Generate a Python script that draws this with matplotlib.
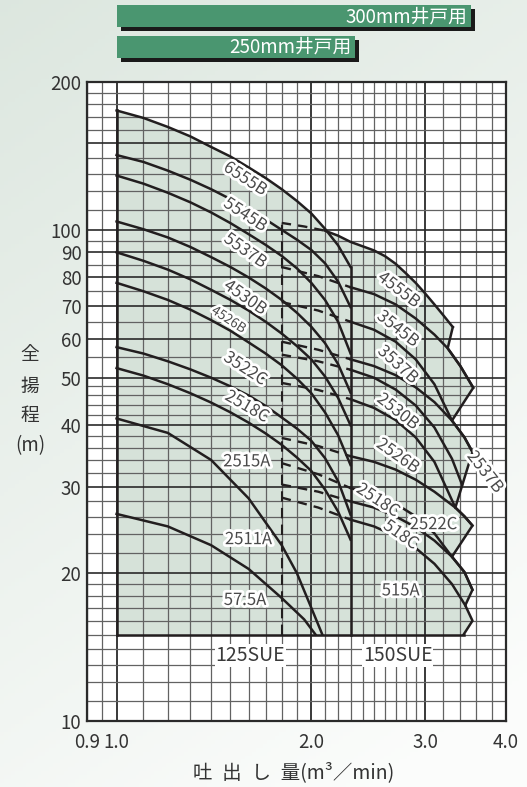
import numpy as np
import matplotlib
matplotlib.use("Agg")
import matplotlib.pyplot as plt
import matplotlib.patheffects as pe
from matplotlib.patches import Rectangle
from matplotlib.ticker import NullLocator

plt.rcParams['font.family'] = ['Noto Sans CJK JP', 'DejaVu Sans']

# ---- 125SUE (250mm well): curves start at 1.0 m3/min
q_125 = [1.0, 1.1, 1.2, 1.3, 1.4, 1.5, 1.6, 1.7, 1.8, 1.9, 2.0, 2.1, 2.2, 2.3]
h_c1 = [175, 169, 162, 155, 147.5, 141, 134, 127.5, 121, 114.5, 108, 100.5, 93, 84]
h_c2 = [142, 137.5, 132, 126.5, 121, 115.5, 110, 105, 100, 95.5, 91, 85.5, 78.5, 69.6]
h_c3 = [129, 124.2, 119, 113.8, 108.5, 103.2, 98, 93.2, 88.5, 83.5, 78, 72, 65, 56]
h_c4 = [104, 100.3, 96.5, 92.3, 88, 84, 80, 76, 72, 67.8, 63.5, 58.8, 53.3, 46.6]
h_c5 = [90, 86.5, 83, 79.3, 75.5, 72, 68.5, 65, 61.5, 58, 54.5, 50.3, 45.5, 40]
h_c6 = [78, 75, 72, 68.8, 65.5, 62.3, 59, 56, 53, 49.8, 46.5, 42.5, 38.2, 33.2]
h_c7 = [57.7, 56, 54, 52, 50, 48, 46, 43.8, 41.5, 39.4, 37.2, 34.3, 30.8, 26.3]
h_c8 = [52.3, 50.5, 48.5, 46.5, 44.5, 42.5, 40.5, 38.5, 36.5, 34.4, 32.3, 29.6, 26.7, 23.4]
q_c9 = [1.0, 1.2, 1.4, 1.6, 1.8, 1.9, 2.0, 2.08]
h_c9 = [41.3, 38.6, 34.0, 28.4, 22.8, 20.0, 17.0, 15.0]
q_c10 = [1.0, 1.2, 1.4, 1.6, 1.8, 1.95, 2.03]
h_c10 = [26.4, 24.9, 22.8, 20.4, 17.8, 16.1, 15.0]
h_floor = 15

# ---- 150SUE (300mm well): dashed part 1.8 -> 2.3, solid beyond
r_dash_q = [1.8, 2.05, 2.3]
r1_dash_q = [1.8, 1.95, 2.1]
r1_dash_h = [103.3, 101.6, 99.6]
r1_q = [2.1, 2.2, 2.3, 2.4, 2.5, 2.6, 2.7, 2.8, 2.9, 3.0, 3.1, 3.2, 3.31]
r1_h = [99.6, 97.3, 94.5, 92.6, 90.8, 88.4, 85.3, 81.6, 78.0, 74.2, 70.5, 67.0, 63.4]
r2_dh = [84, 80.5, 76.4]
r2_q = [2.3, 2.5, 2.7, 2.9, 3.1, 3.25, 3.4, 3.56]
r2_h = [76.4, 74.0, 70.5, 66.0, 61.2, 57.4, 52.8, 47.7]
r3_dh = [71.3, 68.5, 65]
r3_q = [2.3, 2.5, 2.7, 2.9, 3.1, 3.3]
r3_h = [65, 62.6, 59.2, 54.5, 48.5, 40.9]
r4_dh = [59.2, 57, 54.5]
r4_q = [2.3, 2.5, 2.7, 2.9, 3.1, 3.3, 3.45, 3.55]
r4_h = [54.5, 52.8, 50.6, 47.8, 44.6, 40.9, 37.8, 35.3]
r5_dh = [55.7, 54, 51.9]
r5_q = [2.3, 2.5, 2.7, 2.9, 3.1, 3.3, 3.42]
r5_h = [51.9, 50.0, 47.3, 43.9, 39.6, 34.2, 30.3]
r6_dh = [48.8, 47.2, 45.2]
r6_q = [2.3, 2.5, 2.7, 2.9, 3.1, 3.34]
r6_h = [45.2, 43.4, 41.0, 37.8, 33.7, 27.2]
r7_dh = [37.7, 36.3, 34.6]
r7_q = [2.3, 2.5, 2.7, 2.9, 3.1, 3.34, 3.45, 3.55]
r7_h = [34.6, 33.7, 32.5, 31.0, 29.3, 27.2, 26.1, 25.0]
r8_dh = [33.5, 31.8, 29.8]
r8_q = [2.3, 2.5, 2.7, 2.9, 3.1, 3.3]
r8_h = [29.8, 28.9, 27.7, 26.1, 24.1, 21.6]
r9_dh = [30.3, 29.3, 28.0]
r9_q = [2.3, 2.5, 2.7, 2.9, 3.1, 3.3, 3.45, 3.55]
r9_h = [28.0, 27.2, 26.1, 24.8, 23.3, 21.6, 20.1, 18.5]
r10_dh = [28.5, 27.2, 25.7]
r10_q = [2.3, 2.5, 2.7, 2.9, 3.1, 3.3, 3.46]
r10_h = [25.7, 24.9, 23.8, 22.5, 20.9, 19.0, 17.2]

# right hand zigzag edge of the 150SUE range
edge_q = [3.31, 3.25, 3.40, 3.56, 3.30, 3.45, 3.55, 3.34, 3.45, 3.55, 3.30, 3.45, 3.55, 3.46, 3.55, 3.44]
edge_h = [63.4, 57.4, 52.8, 47.7, 40.9, 37.8, 35.3, 27.2, 26.1, 25.0, 21.6, 20.1, 18.5, 17.2, 16.0, 15.0]

labels_125 = ['6555B', '5545B', '5537B', '4530B', '4526B', '3522C', '2518C', '2515A', '2511A', '57.5A']
lab125_q = [1.58, 1.58, 1.58, 1.58, 1.49, 1.58, 1.59, 1.59, 1.60, 1.58]
lab125_h = [126.9, 107.2, 90.6, 72.7, 65.5, 52.1, 43.6, 33.7, 23.4, 17.6]
lab125_rot = [-33, -33, -35, -35, -33, -33, -30, 0, 0, 0]

labels_150 = ['4555B', '3545B', '3537B', '2530B', '2526B', '2537B', '2518C', '2522C', '518C', '515A']
lab150_q = [2.73, 2.72, 2.72, 2.72, 2.72, 3.71, 2.535, 3.09, 2.75, 2.75]
lab150_h = [75.4, 62.8, 53.1, 42.6, 34.6, 32.1, 28.1, 25.1, 23.9, 18.4]
lab150_rot = [-37, -38, -42, -38, -35, -52, -33, 0, -35, 0]

x_ticks = [0.9, 1.0, 2.0, 3.0, 4.0]
x_ticklabels = ['0.9', '1.0', '2.0', '3.0', '4.0']
y_ticks = [10, 20, 30, 40, 50, 60, 70, 80, 90, 100, 200]

W, H = 527, 787
fig = plt.figure(figsize=(W / 100, H / 100), dpi=100)

# soft background
bg = fig.add_axes([0, 0, 1, 1], zorder=-10)
yy, xx = np.mgrid[0:1:200j, 0:1:140j]
t = np.clip(0.35 * xx + 0.75 * yy, 0, 1)[..., None]
c_a = np.array([0.865, 0.905, 0.875])
c_b = np.array([0.985, 0.99, 0.985])
bg.imshow(c_a * (1 - t) + c_b * t, aspect='auto', extent=[0, 1, 0, 1], origin='upper')
bg.axis('off')

ax = fig.add_axes([87 / W, 1 - 721 / H, 419 / W, 639 / H])
ax.set_xscale('log')
ax.set_yscale('log')
ax.set_xlim(0.9, 4.0)
ax.set_ylim(10, 200)
ax.set_facecolor('white')

# grid
xg = [0.9, 0.95] + list(np.round(np.arange(1.0, 3.01, 0.1), 2)) + [3.2, 3.4, 3.6, 3.8, 4.0]
yg = list(range(10, 20)) + list(range(20, 50, 2)) + list(range(50, 100, 5)) + list(range(100, 201, 10))
for v in xg:
    major = v in (1.0, 2.0, 3.0)
    ax.axvline(v, color='#2a2a2a' if major else '#626262', lw=1.3 if major else 0.9, zorder=2)
for v in yg:
    major = v in (10, 20, 30, 40, 50, 60, 70, 80, 90, 100, 150, 200)
    ax.axhline(v, color='#2a2a2a' if major else '#626262', lw=1.2 if major else 0.9, zorder=2)

fill_c = '#d6e2d9'
ax.fill([q_125[0]] + q_125 + [q_125[-1]], [h_floor] + h_c1 + [h_floor], color=fill_c, lw=0, zorder=1)
rq = [r_dash_q[0]] + r1_dash_q + r1_q[1:] + edge_q[1:]
rh = [h_floor] + r1_dash_h + r1_h[1:] + edge_h[1:]
ax.fill(rq, rh, color=fill_c, lw=0, zorder=1)

lc = '#221e1f'
lw = 1.8
# 125SUE frame
ax.plot([q_125[0], q_125[0]], [h_floor, h_c1[0]], color=lc, lw=lw, zorder=3)
ax.plot([q_125[-1], q_125[-1]], [h_floor, h_c1[-1]], color=lc, lw=lw, zorder=3)
ax.plot([q_125[0], edge_q[-1]], [h_floor, h_floor], color=lc, lw=lw, zorder=3)
ax.plot([r_dash_q[0], r_dash_q[0]], [h_floor, r1_dash_h[0]], color=lc, lw=1.5, dashes=(5, 3), zorder=3)

for h in [h_c1, h_c2, h_c3, h_c4, h_c5, h_c6, h_c7, h_c8]:
    ax.plot(q_125, h, color=lc, lw=lw, zorder=3)
ax.plot(q_c9, h_c9, color=lc, lw=lw, zorder=3)
ax.plot(q_c10, h_c10, color=lc, lw=lw, zorder=3)

# 150SUE curves
ax.plot(r1_dash_q, r1_dash_h, color=lc, lw=1.7, dashes=(4, 3), zorder=3)
ax.plot(r1_q, r1_h, color=lc, lw=lw, zorder=3)
for dh, q, h in [(r2_dh, r2_q, r2_h), (r3_dh, r3_q, r3_h), (r4_dh, r4_q, r4_h),
                 (r5_dh, r5_q, r5_h), (r6_dh, r6_q, r6_h), (r7_dh, r7_q, r7_h),
                 (r8_dh, r8_q, r8_h), (r9_dh, r9_q, r9_h), (r10_dh, r10_q, r10_h)]:
    ax.plot(r_dash_q, dh, color=lc, lw=1.7, dashes=(4, 3), zorder=3)
    ax.plot(q, h, color=lc, lw=lw, zorder=3)
ax.plot(edge_q, edge_h, color=lc, lw=lw, zorder=3)

halo = [pe.withStroke(linewidth=4, foreground='white')]
for txt, q, h, r in zip(labels_125, lab125_q, lab125_h, lab125_rot):
    ax.text(q, h, txt, rotation=r, ha='center', va='center', rotation_mode='anchor',
            fontsize=9.5 if txt == '4526B' else 12, color='#4a4a4a', zorder=6, path_effects=halo)
for txt, q, h, r in zip(labels_150, lab150_q, lab150_h, lab150_rot):
    ax.text(q, h, txt, rotation=r, ha='center', va='center', rotation_mode='anchor',
            fontsize=12, color='#4a4a4a', zorder=6, path_effects=halo)

for txt, q in [('125SUE', 1.61), ('150SUE', 2.72)]:
    ax.text(q, 13.6, txt, ha='center', va='center', fontsize=14, color='#3a3a3a', zorder=6,
            bbox=dict(boxstyle='square,pad=0.05', fc='white', ec='none'))

for s in ax.spines.values():
    s.set_color('#2a2a2a')
    s.set_linewidth(1.6)
    s.set_zorder(5)

ax.set_xticks(x_ticks)
ax.set_xticklabels(x_ticklabels)
ax.set_yticks(y_ticks)
ax.set_yticklabels([str(v) for v in y_ticks])
ax.xaxis.set_minor_locator(NullLocator())
ax.yaxis.set_minor_locator(NullLocator())
ax.tick_params(axis='both', length=0, labelsize=13.5, labelcolor='#333333')
ax.tick_params(axis='x', pad=8)
ax.tick_params(axis='y', pad=4)

# axis titles
fig.text(294 / W, 1 - 773 / H, '吐\u2002出\u2002し\u2002量(m³／min)', ha='center', va='center',
         fontsize=14, color='#333333')
for txt, py in [('全', 355), ('揚', 386), ('程', 416), ('(m)', 446)]:
    fig.text(30 / W, 1 - py / H, txt, ha='center', va='center', fontsize=13.5, color='#333333')

# well diameter bars
for x0, y0, x1, y1, txt in [(117, 5, 471, 27, '300mm井戸用'), (117, 36, 355, 58, '250mm井戸用')]:
    fig.patches.append(Rectangle(((x0 + 4) / W, 1 - (y1 + 4) / H), (x1 - x0) / W, (y1 - y0) / H,
                                 transform=fig.transFigure, fc='#1a1a1a', ec='none', zorder=1))
    fig.patches.append(Rectangle((x0 / W, 1 - y1 / H), (x1 - x0) / W, (y1 - y0) / H,
                                 transform=fig.transFigure, fc='#4a9670', ec='none', zorder=2))
    fig.text((x1 - 4) / W, 1 - ((y0 + y1) / 2 + 0.5) / H, txt, ha='right', va='center',
             fontsize=13.5, color='white', zorder=3)

fig.savefig('out.png', dpi=100)
